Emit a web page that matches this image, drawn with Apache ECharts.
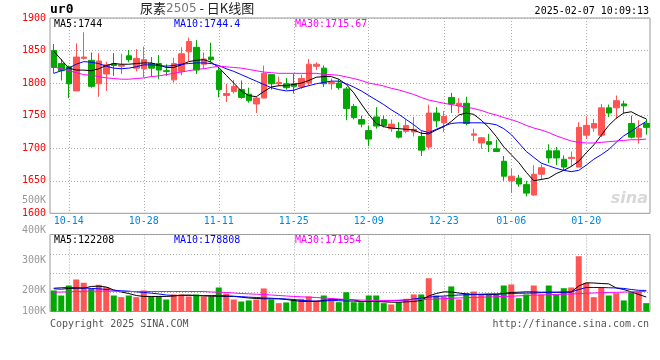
<!DOCTYPE html>
<html><head><meta charset="utf-8">
<script src="https://cdn.jsdelivr.net/npm/echarts@6/dist/echarts.min.js"></script>
<style>html,body{margin:0;padding:0;background:#fff}#c{width:660px;height:360px}</style>
</head><body><div id="c"></div>
<script>
// ---- data ----
const dates = ['10-10','10-11','10-14','10-15','10-16','10-17','10-18','10-21','10-22','10-23','10-24','10-25','10-28','10-29','10-30','10-31','11-01','11-04','11-05','11-06','11-07','11-08','11-11','11-12','11-13','11-14','11-15','11-18','11-19','11-20','11-21','11-22','11-25','11-26','11-27','11-28','11-29','12-02','12-03','12-04','12-05','12-06','12-09','12-10','12-11','12-12','12-13','12-16','12-17','12-18','12-19','12-20','12-23','12-24','12-25','12-26','12-27','12-30','12-31','01-02','01-03','01-06','01-07','01-08','01-09','01-10','01-13','01-14','01-15','01-16','01-17','01-20','01-21','01-22','01-23','01-24','01-27','02-05','02-06','02-07'];
const tickDates = ['10-14','10-28','11-11','11-25','12-09','12-23','01-06','01-20'];
const opens  = [1850,1830,1825,1788,1838,1835,1799,1814,1830,1826, 1842,1823,1822,1830,1830,1819,1805,1818,1848,1855, 1829,1840,1819,1781,1787,1790,1783,1768,1777,1813, 1799,1799,1799,1794,1800,1826,1823,1799,1800,1791, 1764,1744,1727,1748,1744,1730,1726,1726,1725,1718, 1702,1754,1739,1778,1765,1769,1720,1708,1710,1699, 1680,1650,1654,1644,1628,1660,1696,1696,1683,1684, 1671,1720,1731,1720,1762,1762,1768,1738,1717,1738];
const closes = [1824,1819,1799,1840,1840,1795,1834,1828,1827,1828, 1836,1838,1836,1823,1820,1818,1830,1845,1864,1820, 1837,1836,1790,1784,1795,1778,1773,1777,1815,1799, 1801,1793,1795,1807,1829,1829,1799,1801,1793,1761, 1747,1737,1714,1734,1735,1737,1717,1735,1729,1697, 1754,1742,1749,1768,1769,1738,1722,1716,1706,1695, 1657,1657,1645,1631,1660,1670,1685,1685,1671,1686, 1732,1735,1738,1762,1754,1773,1765,1717,1730,1732];
const lows   = [1815,1804,1777,1788,1836,1793,1779,1788,1811,1814, 1832,1818,1809,1810,1806,1811,1801,1812,1834,1814, 1822,1832,1778,1771,1784,1776,1770,1754,1777,1790, 1795,1790,1784,1791,1796,1820,1794,1790,1790,1743, 1744,1732,1703,1730,1732,1725,1715,1723,1718,1688, 1698,1732,1725,1754,1754,1735,1711,1699,1694,1694, 1650,1631,1641,1626,1627,1651,1677,1674,1666,1672, 1671,1714,1725,1717,1748,1745,1753,1715,1707,1721];
const highs  = [1860,1837,1827,1861,1878,1847,1846,1833,1846,1845, 1851,1852,1856,1840,1843,1829,1839,1855,1870,1866, 1847,1862,1824,1799,1805,1804,1793,1779,1827,1814, 1810,1808,1814,1813,1837,1832,1827,1807,1806,1794, 1768,1750,1735,1763,1750,1744,1740,1744,1748,1726, 1767,1763,1757,1785,1777,1779,1730,1717,1722,1713, 1688,1669,1659,1650,1674,1675,1706,1702,1689,1695, 1740,1749,1745,1768,1767,1781,1773,1750,1743,1745];
const ma5  = [1849,1836,1823,1820,1820,1819,1822,1827,1830,1829, 1829,1830,1831,1831,1828,1824,1824,1828,1833,1835, 1836,1832,1824,1812,1800,1788,1781,1779,1787,1794, 1796,1796,1798,1800,1804,1809,1810,1810,1806,1798, 1785,1768,1752,1738,1733,1731,1730,1729,1728,1723, 1722,1728,1733,1741,1751,1754,1752,1743,1732,1718, 1702,1690,1678,1663,1650,1652,1654,1661,1666,1672, 1680,1693,1705,1720,1735,1746,1754,1756,1750,1745];
const ma10 = [1815,1819,1823,1829,1833,1832,1830,1826,1823,1822, 1823,1825,1828,1828,1827,1826,1827,1829,1830,1831, 1831,1830,1827,1822,1818,1813,1808,1803,1798,1793, 1790,1788,1789,1793,1796,1799,1801,1803,1803,1799, 1794,1788,1781,1774,1767,1759,1752,1744,1736,1727, 1724,1729,1734,1738,1739,1739,1739,1739,1738,1736, 1730,1721,1708,1695,1686,1677,1673,1669,1666,1664, 1666,1674,1683,1690,1698,1709,1719,1726,1734,1741];
const ma30 = [1825,1822,1819,1816,1813,1812,1810,1808,1807,1806, 1806,1807,1808,1810,1811,1813,1815,1817,1819,1821, 1822,1824,1826,1825,1824,1823,1821,1819,1817,1816, 1815,1815,1815,1815,1815,1815,1813.5,1813,1812,1809.5, 1807,1804,1800,1798,1795.5,1792,1789.5,1786,1782.5,1778, 1774,1771.5,1769,1767,1765,1763,1761,1758,1754,1751, 1747,1744,1740,1735,1731,1728,1724,1719,1715,1711, 1709,1708,1708,1709,1710,1711,1712,1713,1713,1714];
const volumes = [179,136,221,272,244,193,227,207,136,122, 136,122,179,128,128,102,145,145,128,145, 128,128,204,153,102,85,94,102,196,102, 71,77,102,108,128,94,136,113,79,164, 79,79,136,136,71,60,79,108,145,145, 283,136,128,213,102,156,170,145,145,145, 221,230,113,145,221,145,221,145,198,204, 470,244,122,207,136,156,94,164,170,71].map(v => v * 1000);
const vma5  = [193,190,196,198,198,213,215,208,183,166, 153,136,128,128,128,128,132,138,140,136, 133,130,130,128,128,122,115,111,108,108, 108,102,94,85,85,85,94,102,102,102, 98,85,85,85,82,79,79,82,85,94, 132,153,167,166,157,149,145,145,145,145, 153,162,164,167,166,164,164,164,164,166, 217,244,242,238,235,200,187,167,145,123].map(v => v * 1000);
const vma10 = [198,202,204,202,200,196,193,187,181,176, 173,167,162,156,149,140,136,136,136,136, 136,136,136,133,130,126,122,119,115,113, 109,106,102,94,91,88,89,94,92,89, 88,85,85,85,88,91,94,98,106,115, 122,128,132,136,140,142,145,147,149,150, 151,153,155,156,157,160,162,163,164,166, 187,204,204,204,202,200,196,187,180,179].map(v => v * 1000);
const vma30 = [164,166,167,170,172,173,173,173,172,170, 170,170,170,170,170,170,170,170,170,170, 170,166,164,162,157,153,150,147,145,140, 136,132,128,125,122,119,115,111,106,102, 99,97,95,94,94,94,96,98,99,102, 104,106,109,113,115,117,119,122,123,126, 128,130,133,136,139,140,142,145,147,149, 151,155,157,159,162,163,165,167,168,172].map(v => v * 1000);
const volTickLabels = ['100K','','200K','','','300K','','','400K','','','500K'];
const priceLegend = ['MA5:1744', 'MA10:1744.4', 'MA30:1715.67'];
const volLegend = ['MA5:122208', 'MA10:178808', 'MA30:171954'];
const symbolText = 'ur0';
const titleParts = ['尿素', '2505', ' - 日K线图'];
const stampText = '2025-02-07 10:09:13';
const copyText = 'Copyright 2025 SINA.COM';
const urlText = 'http://finance.sina.com.cn';

// ---- chart ----
const UP = '#ff5555', DOWN = '#00a800';
const MONO = '"DejaVu Sans Mono", monospace';
const chart = echarts.init(document.getElementById('c'), null, {renderer: 'canvas'});
const isTick = (i) => tickDates.indexOf(dates[i]) >= 0;
const candleData = opens.map((o, i) => [o, closes[i], lows[i], highs[i]]);
const volData = volumes.map((v, i) => ({value: v, itemStyle: {color: closes[i] >= opens[i] ? UP : DOWN}}));
const dotted = {color: '#aaaaaa', type: [1, 2], width: 1};
const lineS = (name, data, color, xi, yi) => ({
  name, type: 'line', data, xAxisIndex: xi, yAxisIndex: yi, symbol: 'none', silent: true,
  lineStyle: {color, width: 1}, z: 5
});
const legendColors = ['#000000', '#0000ff', '#ff00ff'];
const legendX = [54, 174, 295];
const graphics = [];
priceLegend.forEach((t, k) => graphics.push({type: 'text', left: legendX[k], top: 19, style: {text: t, fill: legendColors[k], font: '10px ' + MONO}, z: 10}));
volLegend.forEach((t, k) => graphics.push({type: 'text', left: legendX[k], top: 235, style: {text: t, fill: legendColors[k], font: '10px ' + MONO}, z: 10}));
graphics.push({type: 'text', left: 50, top: 3, style: {text: symbolText, fill: '#000', font: 'bold 13px ' + MONO}});
graphics.push({type: 'text', left: 140, top: 2, style: {
  text: '{a|' + titleParts[0] + '}{b|' + titleParts[1] + '}{a|' + titleParts[2] + '}',
  rich: {a: {fontSize: 13, fontFamily: '"Noto Sans CJK SC"', fill: '#222', color: '#222'},
         b: {fontSize: 12, fontFamily: '"DejaVu Sans"', fill: '#777', color: '#777'}}
}});
graphics.push({type: 'text', right: 11, top: 6, style: {text: stampText, fill: '#000', font: '10px ' + MONO}});
graphics.push({type: 'text', left: 50, top: 319, style: {text: copyText, fill: '#555', font: '10px ' + MONO}});
graphics.push({type: 'text', right: 11, top: 319, style: {text: urlText, fill: '#555', font: '10px ' + MONO}});
graphics.push({type: 'text', right: 12, top: 191, style: {text: 'sina', fill: '#d8d8d8', font: 'italic bold 16px "DejaVu Sans"'}, z: 0});

chart.setOption({
  animation: false,
  backgroundColor: '#ffffff',
  grid: [
    {left: 50, right: 10, top: 18, height: 195.3, show: true, borderColor: '#999', borderWidth: 1, backgroundColor: 'transparent'},
    {left: 50, right: 10, top: 234.5, height: 77, show: true, borderColor: '#999', borderWidth: 1, backgroundColor: 'transparent'},
    {left: 50, right: 10, top: 200, height: 111, show: false}
  ],
  xAxis: [
    {type: 'category', gridIndex: 0, data: dates, boundaryGap: true,
     axisLine: {show: false}, axisTick: {show: false},
     axisLabel: {interval: (i) => isTick(i), color: '#0088dd', fontFamily: MONO, fontSize: 10, margin: 3},
     splitLine: {show: true, interval: (i) => isTick(i), alignWithLabel: true, lineStyle: dotted}},
    {type: 'category', gridIndex: 1, data: dates, boundaryGap: true,
     axisLine: {show: false}, axisTick: {show: false}, axisLabel: {show: false},
     splitLine: {show: true, interval: (i) => isTick(i), alignWithLabel: true, lineStyle: dotted}},
    {type: 'value', gridIndex: 2, show: false}
  ],
  yAxis: [
    {type: 'value', gridIndex: 0, min: 1600, max: 1900, interval: 50, scale: true,
     axisLine: {show: false}, axisTick: {show: false},
     axisLabel: {color: '#ff0000', fontFamily: MONO, fontSize: 10, margin: 4, formatter: (v) => String(v)},
     splitLine: {show: true, lineStyle: dotted}},
    {type: 'value', gridIndex: 1, min: 0, max: 654500, interval: 163625,
     axisLine: {show: false}, axisTick: {show: false}, axisLabel: {show: false},
     splitLine: {show: true, lineStyle: dotted}},
    {type: 'category', gridIndex: 2, data: volTickLabels, boundaryGap: false,
     axisLine: {show: false}, axisTick: {show: false}, splitLine: {show: false},
     axisLabel: {interval: 0, color: '#999999', fontFamily: MONO, fontSize: 10, margin: 4}}
  ],
  series: [
    {name: 'K', type: 'candlestick', xAxisIndex: 0, yAxisIndex: 0, data: candleData, barWidth: 6,
     itemStyle: {color: UP, color0: DOWN, borderColor: UP, borderColor0: DOWN, borderWidth: 1}, z: 3},
    lineS('MA5', ma5, legendColors[0], 0, 0),
    lineS('MA10', ma10, legendColors[1], 0, 0),
    lineS('MA30', ma30, legendColors[2], 0, 0),
    {name: 'VOL', type: 'bar', xAxisIndex: 1, yAxisIndex: 1, data: volData, barWidth: 6, z: 3},
    lineS('VMA5', vma5, legendColors[0], 1, 1),
    lineS('VMA10', vma10, legendColors[1], 1, 1),
    lineS('VMA30', vma30, legendColors[2], 1, 1)
  ],
  graphic: graphics
});
</script></body></html>
